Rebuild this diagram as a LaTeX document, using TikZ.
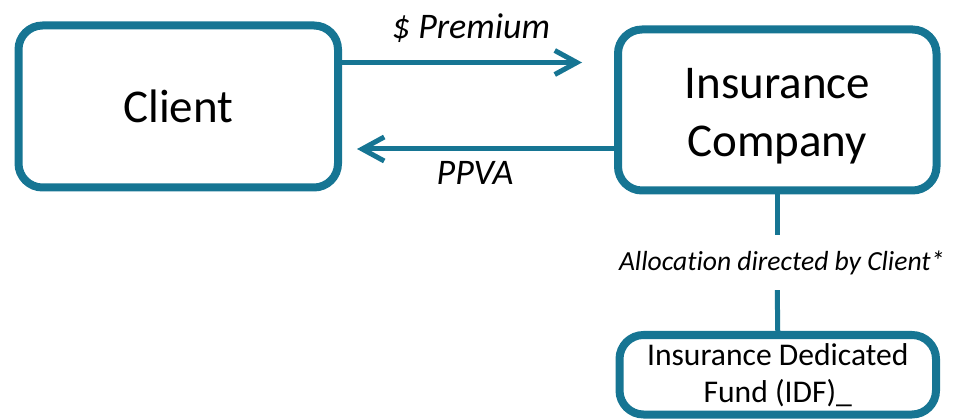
\documentclass[tikz,border=0pt]{standalone}
\usepackage{fontspec}
\setmainfont{Carlito}[Ligatures=NoCommon]
\usetikzlibrary{arrows.meta,shadows}
\definecolor{tealA}{RGB}{22,117,147}
\begin{document}
\begin{tikzpicture}[x=1pt,y=-1pt,
  box/.style={draw=tealA, line width=8pt, rounded corners=24pt, fill=white, align=center, inner sep=0pt,
    drop shadow={shadow xshift=2pt, shadow yshift=-3pt, opacity=0.18}},
  flow/.style={draw=tealA, line width=5pt, -{Straight Barb[length=22pt,width=24pt,line width=5pt]}},
  conn/.style={draw=tealA, line width=5pt},
  lbl/.style={font=\fontsize{36}{40}\selectfont\itshape, inner sep=0pt}]
\useasboundingbox (0,0) rectangle (955,419);
\node[box, minimum width=319.5pt, minimum height=162pt, font=\fontsize{47}{58}\selectfont] (client) at (178.25,106.5) {Client};
\node[box, minimum width=318.5pt, minimum height=161pt, font=\fontsize{47}{58}\selectfont] (ic) at (777.25,110) {\rule{0pt}{42pt}Insurance\\Company};
\node[box, minimum width=316.5pt, minimum height=79.5pt, font=\fontsize{31.6}{37}\selectfont] (idf) at (777.75,374.75) {Insurance Dedicated\\Fund (IDF)\_};
\node[inner sep=0pt, minimum height=55pt, font=\fontsize{27.6}{30}\selectfont\itshape] (alloc) at (777.25,262.5) {\hspace*{9pt}Allocation directed by Client*};
\coordinate (premEnd) at (582,62.5);
\coordinate (ppvaEnd) at (357,149);
\draw[flow] ([yshift=44pt]client.east) -- (premEnd);
\draw[flow] ([yshift=-39pt]ic.west) -- (ppvaEnd);
\draw[conn] (ic.south) -- (alloc.north);
\draw[conn] (alloc.south) -- (idf.north);
\node[lbl] (prem) at (471,28) {\$ Premium};
\node[lbl] (ppva) at (475,173) {PPVA};
\end{tikzpicture}
\end{document}
